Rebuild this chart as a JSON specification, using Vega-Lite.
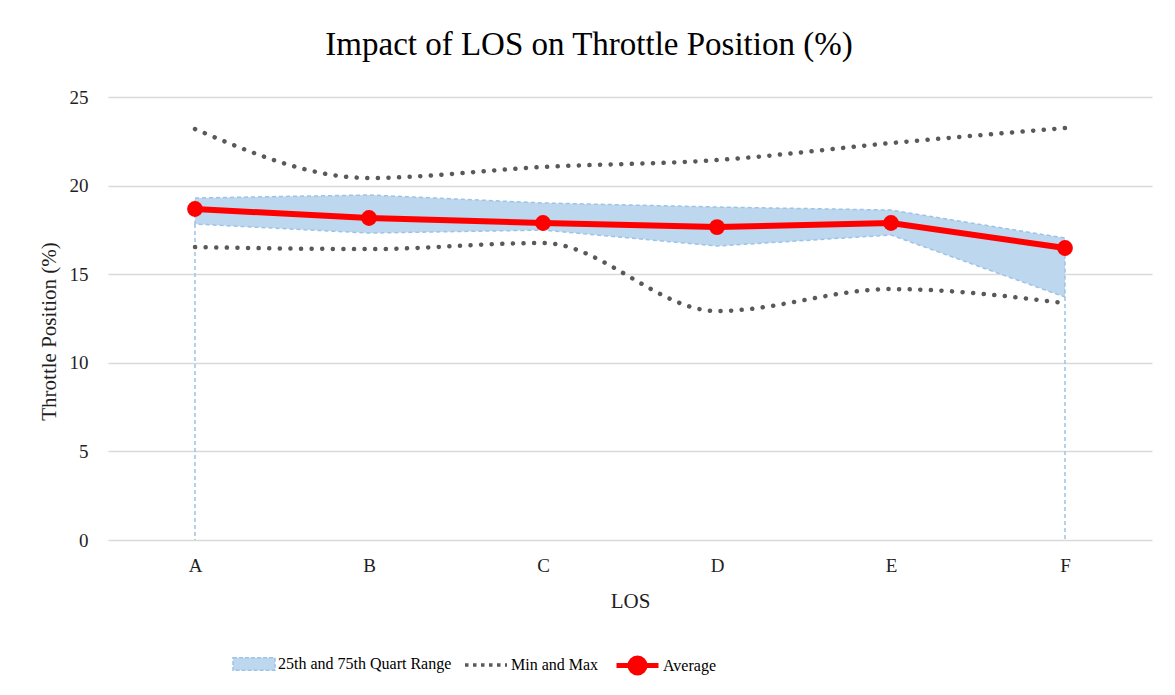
{
  "$schema": "https://vega.github.io/schema/vega-lite/v6.json",
  "width": 1044,
  "height": 443,
  "autosize": {"type": "none"},
  "padding": {"left": 108, "top": 97, "right": 23, "bottom": 155},
  "background": "#ffffff",
  "title": {
    "text": "Impact of LOS on Throttle Position (%)",
    "font": "Liberation Serif",
    "fontSize": 33,
    "fontWeight": "normal",
    "color": "#000000",
    "anchor": "middle",
    "frame": "bounds",
    "offset": 26,
    "dx": -6
  },
  "config": {
    "view": {"stroke": null},
    "axis": {
      "labelFont": "Liberation Serif",
      "titleFont": "Liberation Serif",
      "labelFontSize": 19,
      "titleFontSize": 21,
      "labelColor": "#1f1f1f",
      "titleColor": "#1f1f1f",
      "titleFontWeight": "normal",
      "domain": false,
      "ticks": false,
      "tickSize": 0
    },
    "legend": {
      "orient": "none",
      "title": null,
      "labelFont": "Liberation Serif",
      "labelFontSize": 16,
      "labelColor": "#000000",
      "labelLimit": 400,
      "labelOffset": 2,
      "symbolSize": 1764,
      "symbolOpacity": 1
    }
  },
  "data": {
    "values": [
      {"LOS": "A", "q25": 17.83, "q75": 19.3, "avg": 18.68, "min": 16.53, "max": 23.19},
      {"LOS": "B", "q25": 17.32, "q75": 19.47, "avg": 18.17, "min": 16.42, "max": 20.43},
      {"LOS": "C", "q25": 17.49, "q75": 19.02, "avg": 17.89, "min": 16.76, "max": 21.05},
      {"LOS": "D", "q25": 16.59, "q75": 18.79, "avg": 17.66, "min": 12.92, "max": 21.44},
      {"LOS": "E", "q25": 17.21, "q75": 18.62, "avg": 17.89, "min": 14.16, "max": 22.4},
      {"LOS": "F", "q25": 13.71, "q75": 17.04, "avg": 16.48, "min": 13.37, "max": 23.25}
    ]
  },
  "encoding": {
    "x": {
      "field": "LOS",
      "type": "ordinal",
      "scale": {"type": "point", "padding": 0.5, "domain": ["A", "B", "C", "D", "E", "F"]},
      "axis": {"title": "LOS", "labelAngle": 0, "labelPadding": 16, "titlePadding": 15, "grid": false}
    }
  },
  "layer": [
    {
      "mark": {"type": "rule", "stroke": "#9DC3E6", "strokeWidth": 1.5, "strokeDash": [4, 3]},
      "transform": [{"filter": "datum.LOS == 'A' || datum.LOS == 'F'"}],
      "encoding": {
        "y": {
          "field": "q25",
          "type": "quantitative",
          "scale": {"domain": [0, 25], "nice": false, "zero": true},
          "axis": {
            "title": "Throttle Position (%)",
            "values": [0, 5, 10, 15, 20, 25],
            "grid": true,
            "gridColor": "#D9D9D9",
            "gridWidth": 1.5,
            "labelPadding": 20,
            "titlePadding": 10,
            "titleY": 234
          }
        },
        "y2": {"datum": 0}
      }
    },
    {
      "mark": {"type": "area", "stroke": "#9DC3E6", "strokeWidth": 1.5, "strokeDash": [4, 3], "fillOpacity": 1},
      "encoding": {
        "y": {"field": "q75", "type": "quantitative", "scale": {"domain": [0, 25], "nice": false}},
        "y2": {"field": "q25"},
        "fill": {
          "datum": "25th and 75th Quart Range",
          "type": "nominal",
          "scale": {"domain": ["25th and 75th Quart Range"], "range": ["#BDD7EE"]},
          "legend": {
            "legendX": 124,
            "legendY": 545,
            "symbolType": "M-1,-0.3H1V0.3H-1Z",
            "symbolStrokeColor": "#9DC3E6",
            "symbolStrokeWidth": 1.5,
            "symbolDash": [4, 2]
          }
        }
      }
    },
    {
      "mark": {"type": "line", "strokeWidth": 4.5, "strokeCap": "round", "strokeDash": [0.1, 10.5], "interpolate": "monotone"},
      "encoding": {
        "y": {"field": "min", "type": "quantitative", "scale": {"domain": [0, 25], "nice": false}},
        "stroke": {
          "datum": "Min and Max",
          "type": "nominal",
          "scale": {"domain": ["Min and Max"], "range": ["#595959"]},
          "legend": {
            "legendX": 355,
            "legendY": 545,
            "symbolType": "M-1,0H1",
            "symbolStrokeWidth": 3.5,
            "symbolDash": [3.5, 4.5],
            "symbolDashOffset": 0
          }
        }
      }
    },
    {
      "mark": {"type": "line", "strokeWidth": 4.5, "strokeCap": "round", "strokeDash": [0.1, 10.5], "interpolate": "monotone"},
      "encoding": {
        "y": {"field": "max", "type": "quantitative", "scale": {"domain": [0, 25], "nice": false}},
        "stroke": {"datum": "Min and Max", "type": "nominal"}
      }
    },
    {
      "mark": {"type": "line", "strokeWidth": 6},
      "encoding": {
        "y": {"field": "avg", "type": "quantitative", "scale": {"domain": [0, 25], "nice": false}},
        "color": {
          "datum": "Average",
          "type": "nominal",
          "scale": {"domain": ["Average"], "range": ["#FF0000"]},
          "legend": {
            "legendX": 506,
            "legendY": 545,
            "symbolType": "M-1,0H1M0.36,0A0.36,0.36 0 1 1 -0.36,0A0.36,0.36 0 1 1 0.36,0Z",
            "symbolStrokeWidth": 5,
            "symbolFillColor": "#FF0000",
            "symbolStrokeColor": "#FF0000"
          }
        }
      }
    },
    {
      "mark": {"type": "point", "filled": true, "shape": "circle", "size": 250, "opacity": 1},
      "encoding": {
        "y": {"field": "avg", "type": "quantitative", "scale": {"domain": [0, 25], "nice": false}},
        "color": {"datum": "Average", "type": "nominal"}
      }
    }
  ]
}
